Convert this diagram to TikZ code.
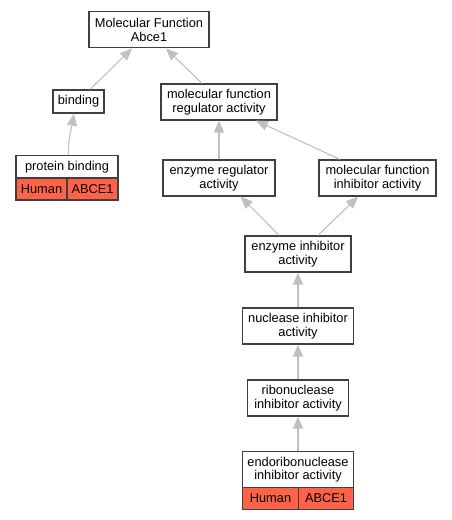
\documentclass[tikz,border=0pt]{standalone}
\usepackage{fontspec}
\setmainfont{Liberation Sans}
\usepackage{tikz}
\usetikzlibrary{positioning,arrows.meta}
\definecolor{boxgray}{RGB}{64,64,64}
\definecolor{edgegray}{RGB}{192,192,192}
\definecolor{hitred}{RGB}{255,99,71}

\begin{document}
\begin{tikzpicture}[x=1pt,y=-1pt,
	box/.style={shape=rectangle,draw=boxgray,line width=1.3pt,fill=white,align=center,inner sep=0pt},
	hit/.style={box,fill=hitred,minimum height=22pt},
	isa/.style={draw=edgegray,line width=1.1pt,-{Triangle[length=12pt,width=10pt,fill=edgegray]}}]
	\tikzstyle{every node}=[font=\fontsize{12.8}{13.6}\selectfont]
	\useasboundingbox (0,0) rectangle (451,520);

	\node[box,minimum width=120pt,minimum height=36pt] (mf) at (149,29.8) {Molecular Function\\Abce1};
	\node[box,minimum width=51pt,minimum height=23pt] (bind) at (78.5,101.5) {binding};
	\node[box,minimum width=116pt,minimum height=36pt] (mfr) at (219,102) {molecular function\\regulator activity};
	\node[box,minimum width=102pt,minimum height=23pt] (pb) at (67,166.8) {protein binding};
	\node[hit,minimum width=51pt] (pbh) at (41.5,189) {Human};
	\node[hit,minimum width=51pt] (pbg) at (92.5,189) {ABCE1};
	\node[box,minimum width=112pt,minimum height=36pt] (era) at (219,178) {enzyme regulator\\activity};
	\node[box,minimum width=117pt,minimum height=36pt] (mfi) at (377.5,178) {molecular function\\inhibitor activity};
	\node[box,minimum width=106pt,minimum height=36pt] (eia) at (298,254) {enzyme inhibitor\\activity};
	\node[box,minimum width=111pt,minimum height=36pt] (nia) at (298,326) {nuclease inhibitor\\activity};
	\node[box,minimum width=101pt,minimum height=36pt] (ria) at (298,398) {ribonuclease\\inhibitor activity};
	\node[box,minimum width=111pt,minimum height=36pt] (eria) at (298,469.7) {endoribonuclease\\inhibitor activity};
	\node[hit,minimum width=56pt] (eriah) at (270.5,498.5) {Human};
	\node[hit,minimum width=55pt] (eriag) at (326,498.5) {ABCE1};

	\draw[isa] ([xshift=11.5pt]bind.north) -- ([xshift=-17pt]mf.south);
	\draw[isa] ([xshift=-17pt]mfr.north) -- ([xshift=17pt]mf.south);
	\draw[isa] ([xshift=1.3pt]pb.north) to[out=90,in=-100] ([xshift=-4.5pt]bind.south);
	\draw[isa] (era) -- (mfr);
	\draw[isa] ([xshift=-37.5pt]mfi.north) -- ([xshift=37pt]mfr.south);
	\draw[isa] ([xshift=-19pt]eia.north) -- ([xshift=21.7pt]era.south);
	\draw[isa] ([xshift=20pt]eia.north) -- ([xshift=-19.5pt]mfi.south);
	\draw[isa] (nia) -- (eia);
	\draw[isa] (ria) -- (nia);
	\draw[isa] (eria) -- (ria);
\end{tikzpicture}
\end{document}
